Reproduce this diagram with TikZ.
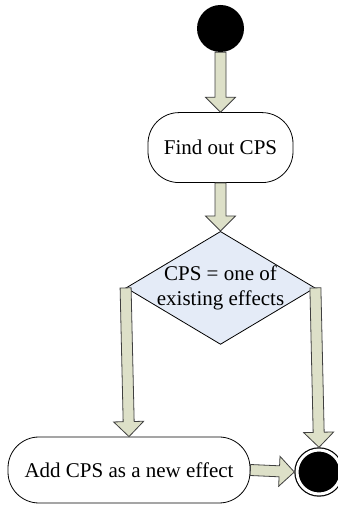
\documentclass[tikz,border=0pt]{standalone}
\usepackage{fontspec}
\setmainfont{Liberation Serif}
\usetikzlibrary{shapes.geometric,positioning,calc}
\definecolor{arrowfill}{RGB}{221,224,200}
\definecolor{decfill}{RGB}{228,235,247}

% block arrow from #1 to #2
\newcommand{\fatarrow}[2]{%
  \draw[fatline] ($(#1)!5.5pt!90:(#2)$)
    -- ($(#2)!15pt!(#1)!5.5pt!-90:(#1)$)
    -- ($(#2)!15pt!(#1)!15pt!-90:(#1)$)
    -- (#2)
    -- ($(#2)!15pt!(#1)!15pt!90:(#1)$)
    -- ($(#2)!15pt!(#1)!5.5pt!90:(#1)$)
    -- ($(#1)!5.5pt!-90:(#2)$) -- cycle;}

\begin{document}
\begin{tikzpicture}[font=\fontsize{21}{25}\selectfont,
    fatline/.style={draw=black!75, fill=arrowfill, line width=0.8pt, line join=miter},
    action/.style={draw, rounded corners=31pt, line width=0.8pt}]
    \useasboundingbox (0,0) rectangle (337pt,505pt);

    \node[circle, fill=black, minimum size=47pt, inner sep=0pt] (start) at (220.5pt,476.5pt) {};
    \node[action, minimum width=145pt, minimum height=70pt, below=60pt of start] (find) {Find out CPS};
    \node[diamond, draw, fill=decfill, line width=0.8pt, minimum width=189pt, minimum height=113pt, inner sep=0pt, below=48pt of find] (dec) {};
    \node[align=center] (dectext) at (dec) {CPS = one of\\existing effects};

    \node[action, minimum width=242pt, minimum height=66pt] (add) at (129pt,35pt) {Add CPS as a new effect};
    \node[circle, draw, fill=black, double=white, line width=1.2pt, double distance=3pt, minimum size=44pt, inner sep=0pt, outer sep=2.7pt] (end) at (319pt,33pt) {};

    \fatarrow{start.south}{find.north}
    \fatarrow{find.south}{dec.north}
    \fatarrow{dec.west}{add.north}
    \fatarrow{dec.east}{end.north}
    \fatarrow{add.east}{end.west}
\end{tikzpicture}
\end{document}
